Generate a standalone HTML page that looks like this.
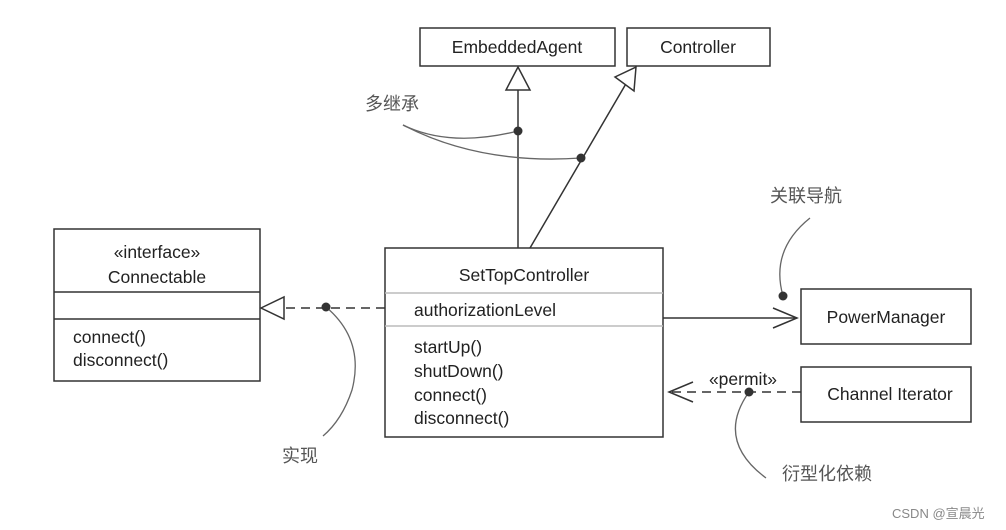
<!DOCTYPE html>
<html><head><meta charset="utf-8"><style>
body{margin:0;background:#fff;}
svg{display:block;}
text{font-family:"Liberation Sans","Noto Sans CJK SC",sans-serif;fill:#222;}
.cn{fill:#555;font-size:18px;}
</style></head><body>
<svg width="1006" height="530" viewBox="0 0 1006 530">
<g fill="#fff" stroke="#333" stroke-width="1.5">
<rect x="420" y="28" width="195" height="38"/>
<rect x="627" y="28" width="143" height="38"/>
<rect x="54" y="229" width="206" height="152"/>
<rect x="385" y="248" width="278" height="189"/>
<rect x="801" y="289" width="170" height="55"/>
<rect x="801" y="367" width="170" height="55"/>
</g>
<g stroke="#333" stroke-width="1.5" fill="none">
<line x1="54" y1="292" x2="260" y2="292"/>
<line x1="54" y1="319" x2="260" y2="319"/>
<line x1="385" y1="293" x2="663" y2="293" stroke="#bbb"/>
<line x1="385" y1="326" x2="663" y2="326" stroke="#bbb"/>
<line x1="518" y1="248" x2="518" y2="90"/>
<polygon points="518,67 506,90 530,90" fill="#fff"/>
<line x1="530" y1="248" x2="627" y2="82"/>
<polygon points="636,67 615,77 634,91" fill="#fff"/>
<line x1="385" y1="308" x2="285" y2="308" stroke-dasharray="9,6"/>
<polygon points="261,308 284,297 284,319" fill="#fff"/>
<line x1="663" y1="318" x2="797" y2="318"/>
<polyline points="773,308 797,318 773,328"/>
<line x1="801" y1="392" x2="670" y2="392" stroke-dasharray="9,6"/>
<polyline points="693,382 669,392 693,402"/>
</g>
<g stroke="#666" stroke-width="1.3" fill="none">
<path d="M403,125 Q450,148 518,131"/>
<path d="M403,125 Q480,165 581,158"/>
<path d="M326,307 Q365,340 352,390 Q342,420 323,436"/>
<path d="M783,296 Q770,250 810,218"/>
<path d="M749,392 Q715,440 766,478"/>
</g>
<g fill="#333">
<circle cx="518" cy="131" r="4.5"/>
<circle cx="581" cy="158" r="4.5"/>
<circle cx="326" cy="307" r="4.5"/>
<circle cx="783" cy="296" r="4.5"/>
<circle cx="749" cy="392" r="4.5"/>
</g>
<g font-size="17.5" text-anchor="middle">
<text x="517" y="53">EmbeddedAgent</text>
<text x="698" y="53">Controller</text>
<text x="157" y="258">«interface»</text>
<text x="157" y="283">Connectable</text>
<text x="524" y="281">SetTopController</text>
<text x="886" y="323">PowerManager</text>
<text x="890" y="400">Channel Iterator</text>
<text x="743" y="385">«permit»</text>
</g>
<g font-size="17.5">
<text x="73" y="343">connect()</text>
<text x="73" y="366">disconnect()</text>
<text x="414" y="316">authorizationLevel</text>
<text x="414" y="353">startUp()</text>
<text x="414" y="377">shutDown()</text>
<text x="414" y="401">connect()</text>
<text x="414" y="424">disconnect()</text>
</g>
<text class="cn" x="365" y="110">多继承</text>
<text class="cn" x="282" y="462">实现</text>
<text class="cn" x="770" y="202">关联导航</text>
<text class="cn" x="782" y="480">衍型化依赖</text>
<text x="892" y="518" font-size="13" style="fill:#888">CSDN @宣晨光</text>
</svg>
</body></html>
